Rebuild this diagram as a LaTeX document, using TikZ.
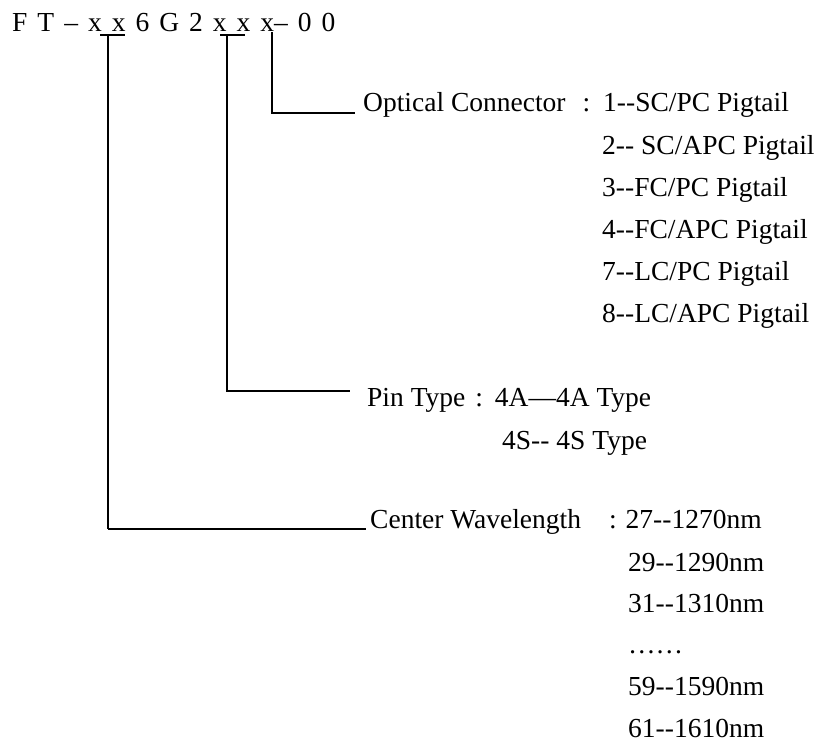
\documentclass[tikz,border=0pt]{standalone}
\usepackage{fontspec}
\setmainfont{Liberation Serif}[Ligatures=TeXOff]
\newcommand{\gp}{\hspace{10pt}}
\begin{document}
\begin{tikzpicture}[x=1pt,y=-1pt,
  lbl/.style={anchor=base west,inner sep=0pt,font=\fontsize{27.5}{33}\selectfont},
  heavy/.style={line width=2.6pt},
  light/.style={line width=1.3pt}]
\useasboundingbox[fill=white] (0,0) rectangle (819,742);
\node[lbl] (title) at (12,31) {F\gp T\gp –\gp x\gp x\gp 6\gp G\gp 2\gp x\gp x\gp x–\gp 0\gp 0};
% optical connector
\node[lbl] (opt) at (363,111) {Optical Connector\hspace{17pt}:\hspace{13pt}1--SC/PC Pigtail};
\node[lbl] (c2) at (602,154) {2-- SC/APC Pigtail};
\node[lbl] (c3) at (602,196) {3--FC/PC Pigtail};
\node[lbl] (c4) at (602,238) {4--FC/APC Pigtail};
\node[lbl] (c7) at (602,280) {7--LC/PC Pigtail};
\node[lbl] (c8) at (602,322) {8--LC/APC Pigtail};
% pin type
\node[lbl] (pin) at (367,406) {Pin Type\hspace{10pt}:\hspace{12pt}4A—4A Type};
\node[lbl] (pin2) at (502,449) {4S-- 4S Type};
% wavelength
\node[lbl] (cw) at (370,528) {Center Wavelength\hspace{28pt}:\hspace{9pt}27--1270nm};
\node[lbl] (w29) at (628,571) {29--1290nm};
\node[lbl] (w31) at (628,612) {31--1310nm};
\node[lbl] (dots) at (628,653) {……};
\node[lbl] (w59) at (628,695) {59--1590nm};
\node[lbl] (w61) at (628,737) {61--1610nm};
% connector points
\coordinate (u1a) at (100,35);
\coordinate (u1b) at (125,35);
\coordinate (v1) at (108,35);
\coordinate (k1) at (108,529);
\coordinate (e1) at (366,529);
\coordinate (u2a) at (220,35);
\coordinate (u2b) at (245,35);
\coordinate (v2) at (227,35);
\coordinate (k2) at (227,391);
\coordinate (e2) at (350,391);
\coordinate (v3) at (272,32);
\coordinate (k3) at (272,113);
\coordinate (e3) at (355,113);
\draw[heavy] (u1a) -- (u1b);
\draw[light] (v1) -- (k1);
\draw[heavy] (k1) -- (e1);
\draw[heavy] (u2a) -- (u2b);
\draw[heavy] (v2) -- (k2) -- (e2);
\draw[heavy] (v3) -- (k3) -- (e3);
\end{tikzpicture}
\end{document}
